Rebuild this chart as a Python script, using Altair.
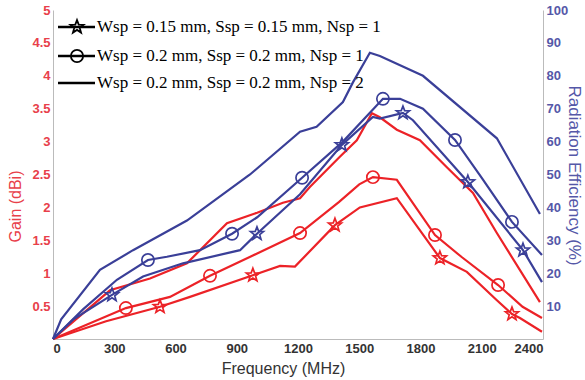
import math
import altair as alt
import pandas as pd

# ---------------- data ----------------
configs = [
    "Wsp = 0.15 mm, Ssp = 0.15 mm, Nsp = 1",
    "Wsp = 0.2 mm, Ssp = 0.2 mm, Nsp = 1",
    "Wsp = 0.2 mm, Ssp = 0.2 mm, Nsp = 2",
]

# Gain (dBi), red
gain_star_freq = [0, 260, 524, 671, 979, 1112, 1185, 1381, 1503, 1684, 1895, 2027, 2174, 2248, 2287, 2395]
gain_star_val = [0, 0.27, 0.49, 0.64, 0.97, 1.11, 1.10, 1.73, 2.0, 2.14, 1.23, 1.02, 0.59, 0.38, 0.32, 0.11]
gain_star_marks = [524, 979, 1381, 1895, 2248]

gain_circ_freq = [0, 357, 573, 769, 1000, 1210, 1400, 1500, 1567, 1684, 1871, 2000, 2180, 2300, 2395]
gain_circ_val = [0, 0.47, 0.64, 0.96, 1.30, 1.61, 2.08, 2.35, 2.46, 2.42, 1.58, 1.25, 0.82, 0.49, 0.32]
gain_circ_marks = [357, 769, 1210, 1567, 1871, 2180]

gain_n2_freq = [0, 279, 475, 656, 852, 1000, 1126, 1210, 1258, 1405, 1488, 1562, 1601, 1684, 1797, 1929, 2057, 2174, 2385]
gain_n2_val = [0, 0.74, 0.92, 1.15, 1.76, 1.92, 2.07, 2.14, 2.31, 2.77, 3.02, 3.43, 3.37, 3.18, 3.02, 2.61, 2.22, 1.61, 0.56]

# Radiation efficiency (%), blue
eff_star_freq = [0, 100, 289, 441, 637, 916, 999, 1210, 1415, 1567, 1601, 1714, 1763, 2032, 2302, 2395]
eff_star_val = [0, 6, 13.4, 19, 23, 27, 32, 44, 59, 67.5, 67, 68.7, 66.5, 47.7, 27, 17.3]
eff_star_marks = [289, 999, 1415, 1714, 2032, 2302]

eff_circ_freq = [0, 147, 313, 465, 558, 720, 877, 1000, 1220, 1420, 1616, 1700, 1812, 1969, 2100, 2248, 2395]
eff_circ_val = [0, 9, 18, 24, 25, 27, 32, 37, 49, 60, 73, 73, 70, 60.5, 49, 35.6, 25.5]
eff_circ_marks = [465, 877, 1220, 1616, 1969, 2248]

eff_n2_freq = [0, 40, 230, 392, 656, 965, 1210, 1291, 1420, 1469, 1552, 1601, 1812, 2174, 2385]
eff_n2_val = [0, 6, 21, 27, 36, 50, 63, 64.5, 72, 78, 87, 86, 80, 61, 38]

x_ticks = [0, 300, 600, 900, 1200, 1500, 1800, 2100, 2400]
gain_ticks = [0.5, 1, 1.5, 2, 2.5, 3, 3.5, 4, 4.5, 5]
eff_ticks = [10, 20, 30, 40, 50, 60, 70, 80, 90, 100]


def frame(freqs, vals, config):
    return pd.DataFrame({"freq": freqs, "val": vals, "config": config})


def marker_frame(freqs, vals, marks):
    keep = [(f, v) for f, v in zip(freqs, vals) if f in marks]
    return pd.DataFrame({"freq": [k[0] for k in keep], "val": [k[1] for k in keep]})


gain_df = pd.concat([
    frame(gain_star_freq, gain_star_val, configs[0]),
    frame(gain_circ_freq, gain_circ_val, configs[1]),
    frame(gain_n2_freq, gain_n2_val, configs[2]),
], ignore_index=True)

eff_df = pd.concat([
    frame(eff_star_freq, eff_star_val, configs[0]),
    frame(eff_circ_freq, eff_circ_val, configs[1]),
    frame(eff_n2_freq, eff_n2_val, configs[2]),
], ignore_index=True)

RED = "#ec2227"
BLUE = "#3a3f98"
RED_TXT = "#e8404a"
BLUE_TXT = "#5558a8"
AX = "#bbbbbb"

# five-pointed star as a custom SVG symbol path (unit radius)
_pts = []
for k in range(10):
    a = math.radians(-90 + 36 * k)
    r = 1.0 if k % 2 == 0 else 0.42
    _pts.append(f"{r * math.cos(a):.3f},{r * math.sin(a):.3f}")
STAR = "M" + "L".join(_pts) + "Z"

x_enc = alt.X("freq:Q", scale=alt.Scale(domain=[0, 2400], nice=False),
              axis=alt.Axis(values=x_ticks, labelExpr="datum.value + ''",
                            title="Frequency (MHz)", grid=False,
                            ticks=False, labelPadding=3, labelFontSize=13,
                            labelFontWeight="bold", labelColor="#333333",
                            labelFont="Liberation Sans", titleFont="Liberation Sans",
                            titleFontSize=16, titleFontWeight="normal", titleColor="#333333",
                            titlePadding=5, titleX=230, domainColor=AX))

y_gain_axis = alt.Y("val:Q", scale=alt.Scale(domain=[0, 5], nice=False),
                    axis=alt.Axis(values=gain_ticks, labelExpr="datum.value + ''",
                                  title="Gain (dBi)", grid=False,
                                  ticks=False, labelPadding=3, labelFontSize=13,
                                  labelFontWeight="bold", labelColor=RED_TXT,
                                  labelFont="Liberation Sans", titleFont="Liberation Sans",
                                  titleFontSize=16, titleFontWeight="normal", titleColor=RED_TXT,
                                  titleX=-38, titleY=196, titleBaseline="middle",
                                  domainColor=AX))
y_gain_plain = alt.Y("val:Q", scale=alt.Scale(domain=[0, 5], nice=False), axis=None)

y_eff_axis = alt.Y("val:Q", scale=alt.Scale(domain=[0, 100], nice=False),
                   axis=alt.Axis(values=eff_ticks, labelExpr="datum.value + ''",
                                 title="Radiation Efficiency (%)", grid=False,
                                 ticks=False, labelPadding=3, labelFontSize=13,
                                 labelFontWeight="bold", labelColor=BLUE_TXT,
                                 labelFont="Liberation Sans", titleFont="Liberation Sans",
                                 titleFontSize=17, titleFontWeight="normal", titleColor=BLUE_TXT,
                                 titleX=30, titleY=165, titleBaseline="middle",
                                 domainColor=AX, orient="right"))
y_eff_plain = alt.Y("val:Q", scale=alt.Scale(domain=[0, 100], nice=False), axis=None)

LW = 2.2
MS_STAR = 190
MS_CIRC = 150
MW = 1.7

gain_lines = alt.Chart(gain_df).mark_line(strokeWidth=LW, color=RED).encode(
    x=x_enc, y=y_gain_axis, detail="config:N")
eff_lines = alt.Chart(eff_df).mark_line(strokeWidth=LW, color=BLUE).encode(
    x=x_enc, y=y_eff_axis, detail="config:N")

gain_stars = alt.Chart(marker_frame(gain_star_freq, gain_star_val, gain_star_marks)).mark_point(
    shape=STAR, filled=False, size=MS_STAR, strokeWidth=MW, color=RED, opacity=1).encode(
    x=x_enc, y=y_gain_plain)
gain_circs = alt.Chart(marker_frame(gain_circ_freq, gain_circ_val, gain_circ_marks)).mark_point(
    shape="circle", filled=False, size=MS_CIRC, strokeWidth=MW, color=RED, opacity=1).encode(
    x=x_enc, y=y_gain_plain)
eff_stars = alt.Chart(marker_frame(eff_star_freq, eff_star_val, eff_star_marks)).mark_point(
    shape=STAR, filled=False, size=MS_STAR, strokeWidth=MW, color=BLUE, opacity=1).encode(
    x=x_enc, y=y_eff_plain)
eff_circs = alt.Chart(marker_frame(eff_circ_freq, eff_circ_val, eff_circ_marks)).mark_point(
    shape="circle", filled=False, size=MS_CIRC, strokeWidth=MW, color=BLUE, opacity=1).encode(
    x=x_enc, y=y_eff_plain)

# ---------------- manual legend (top-left, inside plot) ----------------
legend_rows = [17, 46, 73]
legend_shapes = [STAR, "circle", None]
legend_sizes = [190, 150, 0]
legend_layers = []
for label, ypos, shp, sz in zip(configs, legend_rows, legend_shapes, legend_sizes):
    d = pd.DataFrame({"label": [label]})
    base = alt.Chart(d)
    legend_layers.append(base.mark_rule(color="black", strokeWidth=2.4).encode(
        x=alt.value(5), x2=alt.value(42), y=alt.value(ypos)))
    if shp:
        legend_layers.append(base.mark_point(shape=shp, filled=False, color="black",
                                             size=sz, strokeWidth=1.8, opacity=1).encode(
            x=alt.value(24), y=alt.value(ypos)))
    legend_layers.append(base.mark_text(align="left", baseline="middle", font="Liberation Serif",
                                        fontSize=17, color="black").encode(
        x=alt.value(44), y=alt.value(ypos), text="label:N"))

chart = alt.layer(
    gain_lines, eff_lines, gain_stars, gain_circs, eff_stars, eff_circs, *legend_layers
).resolve_scale(
    y="independent"
).properties(
    width=490, height=329,
    autosize=alt.AutoSizeParams(type="none"),
    padding={"left": 53, "right": 42, "top": 10, "bottom": 41},
).configure_view(strokeWidth=0)

chart.save("out.html", embed_options={"renderer": "svg", "actions": False})
